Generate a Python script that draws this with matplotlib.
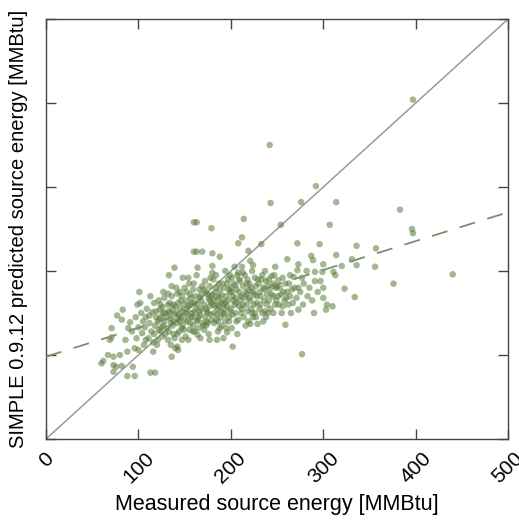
import numpy as np
import matplotlib.pyplot as plt

plt.rcParams['font.family'] = ['Liberation Sans', 'DejaVu Sans']

# measured vs predicted source energy [MMBtu]
measured = [
    60, 62, 67, 69,
    71, 71, 73, 73, 76, 77, 73,
    82, 83, 80, 82, 86, 88, 88, 89,
    91, 94, 96, 96, 98, 93, 97, 99,
    100, 101, 100, 107, 103, 105, 108, 104, 109, 102, 106, 108,
    113, 118, 115, 116, 112, 114, 117, 119, 111, 113, 118, 116, 119, 112, 117, 120,
    123, 127, 121, 122, 124, 125, 126, 127, 128, 129, 121, 123, 124, 126, 128, 129, 122, 125, 127,
    132, 133, 136, 139, 131, 132, 133, 134, 135, 136, 137, 138, 139, 131, 132, 134, 135, 136, 137,
    138, 139, 133, 135, 138,
    142, 140, 143, 142, 148, 141, 142, 143, 144, 145, 146, 147, 148, 149, 141, 142, 144, 145, 146,
    147, 148, 149, 140, 143, 145, 147,
    154, 160, 160, 151, 152, 153, 154, 155, 156, 157, 158, 159, 150, 151, 152, 153, 155, 156, 157,
    158, 159, 150, 152, 154, 156, 158, 159,
    163, 169, 164, 163, 164, 161, 162, 163, 164, 165, 166, 167, 168, 169, 160, 161, 162, 163, 165,
    166, 167, 168, 169, 161, 164, 166, 168, 170,
    179, 180, 180, 180, 177, 171, 172, 173, 174, 175, 176, 177, 178, 179, 171, 172, 173, 174, 175,
    176, 177, 178, 179, 171, 173, 175, 177, 179,
    188, 181, 182, 183, 184, 185, 186, 187, 188, 189, 181, 182, 183, 184, 185, 186, 187, 189, 180,
    182, 184, 186, 188, 189, 185, 187,
    196, 191, 192, 193, 194, 195, 196, 197, 198, 199, 190, 191, 192, 193, 194, 195, 197, 198, 199,
    190, 192, 194, 196, 198, 199, 193,
    202, 208, 208, 204, 201, 202, 203, 205, 206, 207, 209, 200, 201, 203, 205, 206, 207, 209, 200,
    202, 204, 206, 208, 209, 201, 205,
    212, 212, 215, 214, 219, 211, 212, 213, 214, 216, 217, 218, 219, 210, 211, 213, 215, 216, 217,
    218, 219, 210, 213, 217,
    221, 229, 221, 224, 221, 222, 223, 224, 225, 226, 227, 228, 220, 222, 223, 225, 226, 227, 228,
    229, 220, 224,
    233, 231, 232, 233, 234, 235, 236, 237, 238, 239, 230, 231, 234, 235, 236, 238, 239, 232, 237, 240,
    244, 243, 242, 241, 242, 243, 245, 246, 247, 248, 249, 240, 244, 246, 247, 249, 241, 248,
    251, 254, 259, 251, 252, 253, 255, 256, 257, 258, 250, 254, 256, 259,
    261, 268, 261, 262, 263, 264, 265, 266, 267, 269, 260, 264,
    272, 276, 277, 273, 272, 273, 277, 273, 271, 275, 278, 279,
    282, 287, 289, 291, 291, 297, 299, 292, 296, 283, 285, 288, 294, 300,
    303, 310, 311, 313, 314, 307, 314, 320, 323, 331, 334, 336, 336, 356, 357, 376, 383, 396, 397,
    397, 440, 300, 304, 290, 300,
]
predicted = [
    90, 93, 100, 118,
    132, 121, 88, 98, 86, 147, 80,
    142, 154, 100, 87, 118, 104, 75, 132,
    139, 86, 75, 108, 120, 128, 145, 160,
    133, 175, 106, 133, 150, 140, 118, 126, 155, 162, 112, 145,
    79, 79, 151, 104, 138, 128, 162, 145, 120, 170, 135, 115, 152, 147, 125, 112,
    154, 175, 140, 130, 160, 146, 122, 135, 168, 150, 118, 143, 128, 157, 140, 125, 165, 133, 150,
    173, 195, 98, 204, 145, 160, 128, 150, 138, 170, 155, 125, 148, 132, 118, 162, 143, 182, 135,
    160, 120, 152, 112, 140,
    173, 108, 106, 110, 192, 150, 138, 162, 128, 155, 145, 170, 135, 160, 180, 125, 148, 140, 165,
    118, 152, 130, 158, 143, 175, 132,
    192, 258, 223, 150, 165, 140, 158, 130, 172, 145, 162, 135, 180, 122, 155, 148, 185, 138, 168,
    150, 128, 142, 175, 118, 160, 145, 178,
    223, 223, 204, 258, 124, 150, 170, 140, 160, 132, 178, 148, 165, 138, 185, 128, 155, 195, 145,
    168, 120, 155, 182, 162, 142, 152, 172, 135,
    251, 221, 206, 198, 118, 160, 145, 175, 152, 138, 168, 182, 148, 162, 130, 188, 155, 140, 172,
    125, 158, 192, 142, 178, 135, 150, 165, 170,
    217, 160, 150, 175, 142, 168, 155, 185, 132, 162, 190, 138, 158, 180, 148, 128, 170, 145, 172,
    165, 195, 140, 178, 152, 118, 158,
    127, 165, 150, 180, 140, 170, 158, 190, 145, 175, 135, 185, 160, 148, 200, 132, 165, 178, 152,
    172, 120, 162, 185, 140, 195, 155,
    110, 198, 233, 160, 175, 148, 185, 168, 140, 195, 158, 180, 132, 165, 150, 178, 125, 190, 155,
    170, 205, 162, 142, 175, 192, 183,
    240, 205, 195, 262, 224, 170, 155, 182, 145, 175, 160, 190, 140, 165, 150, 198, 168, 135, 185,
    152, 178, 188, 160, 172,
    137, 137, 212, 207, 165, 180, 150, 175, 160, 192, 145, 170, 185, 155, 200, 172, 150, 182, 162,
    190, 168, 145,
    232, 175, 160, 190, 150, 180, 165, 200, 145, 172, 185, 155, 195, 140, 178, 188, 160, 170, 152, 182,
    194, 281, 350, 165, 178, 155, 185, 170, 195, 160, 180, 150, 172, 150, 182, 165, 190, 205,
    189, 255, 136, 170, 160, 180, 150, 192, 175, 165, 182, 172, 158, 185,
    214, 193, 175, 160, 185, 170, 150, 178, 162, 180, 168, 195,
    233, 282, 101, 154, 201, 180, 192, 208, 168, 175, 160, 185,
    200, 218, 213, 199, 188, 188, 199, 301, 232, 170, 180, 165, 175, 168,
    154, 158, 199, 195, 219, 255, 282, 206, 179, 214, 169, 207, 230, 205, 227, 185, 273, 250, 245,
    404, 196, 180, 160, 150, 208,
]

# dashed fit line: intercept and slope
fit_intercept = 98
fit_slope = 0.344
axis_max = 500
ticks = [0, 100, 200, 300, 400, 500]

fig = plt.figure(figsize=(5.19, 5.21), dpi=100)
ax = fig.add_axes([0.0886, 0.1574, 0.8905, 0.8061])

ax.plot([0, axis_max], [0, axis_max], color='#9a9a9a', lw=1.1, zorder=1)
xfit = np.array([0, axis_max])
ax.plot(xfit, fit_intercept + fit_slope * xfit, color='#7d8f6c', lw=1.3,
        dashes=(9, 7), zorder=3)
ax.scatter(measured, predicted, s=22, color='#5a7c3b', alpha=0.55,
           edgecolors='none', zorder=2)

ax.set_xlim(0, axis_max)
ax.set_ylim(0, axis_max)
ax.set_xticks(ticks)
ax.set_yticks(ticks)
ax.set_xticklabels([str(t) for t in ticks], rotation=45, ha='center', va='top',
                   fontsize=15)
ax.set_yticklabels([])
ax.tick_params(direction='in', length=7, width=1, color='#444444',
               top=True, right=True, pad=7)
for s in ax.spines.values():
    s.set_color('#444444')
    s.set_linewidth(1)

ax.set_xlabel('Measured source energy [MMBtu]', fontsize=15.5, labelpad=5)
ax.set_ylabel('SIMPLE 0.9.12 predicted source energy [MMBtu]', fontsize=14.5,
              labelpad=6)

fig.savefig('out.png', dpi=100)
